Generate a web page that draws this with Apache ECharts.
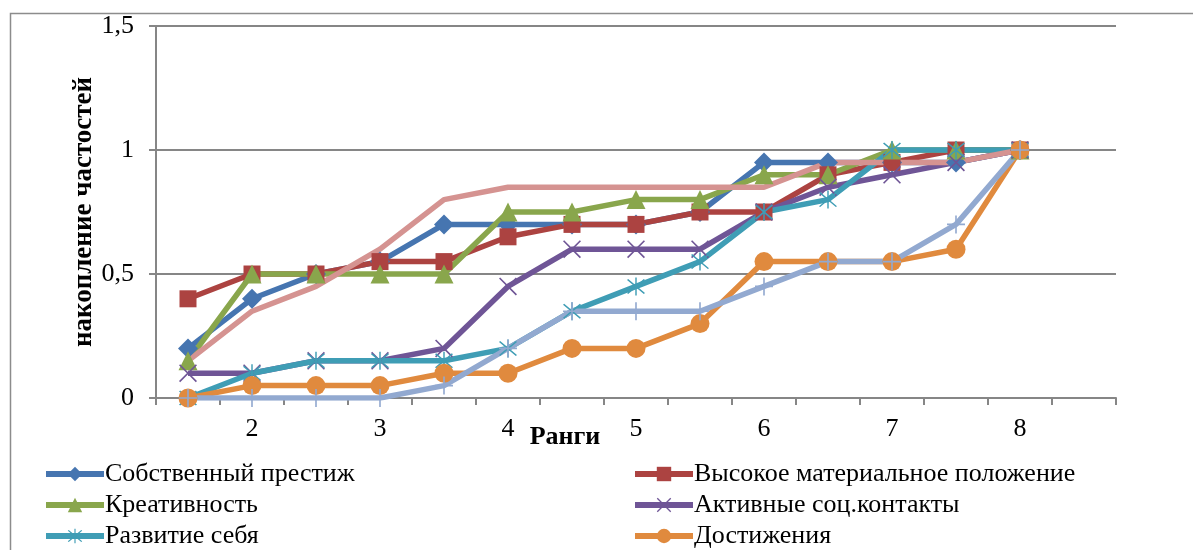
<!DOCTYPE html>
<html>
<head>
<meta charset="utf-8">
<script src="https://cdn.jsdelivr.net/npm/echarts@6/dist/echarts.min.js"></script>
<style>
html,body{margin:0;padding:0;background:#fff;}
#chart{width:1193px;height:550px;}
</style>
</head>
<body>
<div id="chart"></div>
<script>
// Categories (ranks) and tick labels
const categories = ['1,5','2','2,5','3','3,5','4','4,5','5','5,5','6','6,5','7','7,5','8','8,5'];
const tickLabels = ['', '2', '', '3', '', '4', '', '5', '', '6', '', '7', '', '8', ''];
const yTickLabels = {0: '0', 0.5: '0,5', 1: '1', 1.5: '1,5'};

// Series names
const seriesNames = [
  'Собственный престиж',
  'Высокое материальное положение',
  'Креативность',
  'Активные соц.контакты',
  'Развитие себя',
  'Достижения',
  'Ряд 7',
  'Ряд 8'
];

// Series values (cumulative frequencies)
const prestige   = [0.2, 0.4, 0.5, 0.55, 0.7, 0.7, 0.7, 0.7, 0.75, 0.95, 0.95, 0.95, 0.95, 1];
const material   = [0.4, 0.5, 0.5, 0.55, 0.55, 0.65, 0.7, 0.7, 0.75, 0.75, 0.9, 0.95, 1, 1];
const creativity = [0.15, 0.5, 0.5, 0.5, 0.5, 0.75, 0.75, 0.8, 0.8, 0.9, 0.9, 1, 1, 1];
const contacts   = [0.1, 0.1, 0.15, 0.15, 0.2, 0.45, 0.6, 0.6, 0.6, 0.75, 0.85, 0.9, 0.95, 1];
const selfDev    = [0, 0.1, 0.15, 0.15, 0.15, 0.2, 0.35, 0.45, 0.55, 0.75, 0.8, 1, 1, 1];
const achieve    = [0, 0.05, 0.05, 0.05, 0.1, 0.1, 0.2, 0.2, 0.3, 0.55, 0.55, 0.55, 0.6, 1];
const series7    = [0, 0, 0, 0, 0.05, 0.2, 0.35, 0.35, 0.35, 0.45, 0.55, 0.55, 0.7, 1];
const series8    = [0.15, 0.35, 0.45, 0.6, 0.8, 0.85, 0.85, 0.85, 0.85, 0.85, 0.95, 0.95, 0.95, 1];

const colors = ['#4675B0', '#AC4341', '#89A64C', '#6F5596', '#3F9DB5', '#E08A3E', '#92A9D0', '#D59391'];

const X_PATH = 'path://M0,1.3L1.3,0L20,18.7L18.7,20Z M18.7,0L20,1.3L1.3,20L0,18.7Z';
const STAR_PATH = 'path://M0,1.3L1.3,0L20,18.7L18.7,20Z M18.7,0L20,1.3L1.3,20L0,18.7Z M9.2,-2L10.8,-2L10.8,22L9.2,22Z';
const PLUS_PATH = 'path://M9.1,0L10.9,0L10.9,20L9.1,20Z M0,9.1L20,9.1L20,10.9L0,10.9Z';

const FONT = '"Liberation Serif", "Times New Roman", serif';

function mk(name, data, color, symbol, size) {
  return {
    name: name,
    type: 'line',
    data: data,
    symbol: symbol,
    symbolSize: size,
    showSymbol: symbol !== 'none',
    lineStyle: {width: 5.5, color: color},
    itemStyle: {color: color},
    emphasis: {disabled: true},
    animation: false
  };
}

const seriesList = [
  mk(seriesNames[0], prestige, colors[0], 'diamond', 20),
  mk(seriesNames[1], material, colors[1], 'rect', 17),
  mk(seriesNames[2], creativity, colors[2], 'triangle', 19),
  mk(seriesNames[3], contacts, colors[3], X_PATH, 18),
  mk(seriesNames[4], selfDev, colors[4], STAR_PATH, 18),
  mk(seriesNames[5], achieve, colors[5], 'circle', 19),
  mk(seriesNames[6], series7, colors[6], PLUS_PATH, 18),
  mk(seriesNames[7], series8, colors[7], 'none', 0)
];

const legendCommon = {
  orient: 'vertical',
  itemWidth: 58,
  itemHeight: 18,
  itemGap: 5,
  height: 200,
  lineStyle: {width: 6},
  textStyle: {fontFamily: FONT, fontSize: 26, color: '#000', padding: [0,0,0,-4]},
  selectedMode: false
};

const chart = echarts.init(document.getElementById('chart'), null, {renderer: 'canvas'});
chart.setOption({
  animation: false,
  color: colors,
  graphic: [{
    type: 'rect',
    left: 8, top: 11,
    shape: {width: 1300, height: 700},
    style: {fill: 'none', stroke: '#8c8c8c', lineWidth: 1.5},
    silent: true,
    z: -10
  }],
  grid: {left: 156, right: 77, top: 26, bottom: 152, containLabel: false},
  legend: [
    Object.assign({}, legendCommon, {left: 38, top: 456, data: [seriesNames[0], seriesNames[2], seriesNames[4]]}),
    Object.assign({}, legendCommon, {left: 627, top: 456, data: [seriesNames[1], seriesNames[3], seriesNames[5]]})
  ],
  xAxis: {
    type: 'category',
    data: categories,
    boundaryGap: true,
    name: 'Ранги',
    nameLocation: 'middle',
    nameGap: 26,
    nameMoveOverlap: false,
    nameTextStyle: {fontFamily: FONT, fontSize: 26, fontWeight: 'bold', color: '#000', padding: [0, 142, 0, 0], verticalAlign: 'top'},
    axisLine: {lineStyle: {color: '#868686', width: 2}},
    axisTick: {show: true, interval: 0, length: 7, lineStyle: {color: '#868686', width: 2}},
    axisLabel: {
      interval: 0,
      margin: 18,
      fontFamily: FONT, fontSize: 26, color: '#000',
      formatter: function (v, i) { return tickLabels[i]; }
    },
    splitLine: {show: false}
  },
  yAxis: {
    type: 'value',
    min: 0, max: 1.5, interval: 0.5,
    name: 'накопление частостей',
    nameLocation: 'middle',
    nameGap: 58,
    nameRotate: 90,
    nameMoveOverlap: false,
    nameTextStyle: {fontFamily: FONT, fontSize: 27, fontWeight: 'bold', color: '#000'},
    axisLine: {show: true, lineStyle: {color: '#868686', width: 2}},
    axisTick: {show: true, length: 7, lineStyle: {color: '#868686', width: 2}},
    axisLabel: {
      margin: 22,
      fontFamily: FONT, fontSize: 26, color: '#000',
      formatter: function (v) { return yTickLabels[v] !== undefined ? yTickLabels[v] : String(v).replace('.', ','); }
    },
    splitLine: {show: true, lineStyle: {color: '#868686', width: 2}}
  },
  series: seriesList
});
</script>
</body>
</html>
